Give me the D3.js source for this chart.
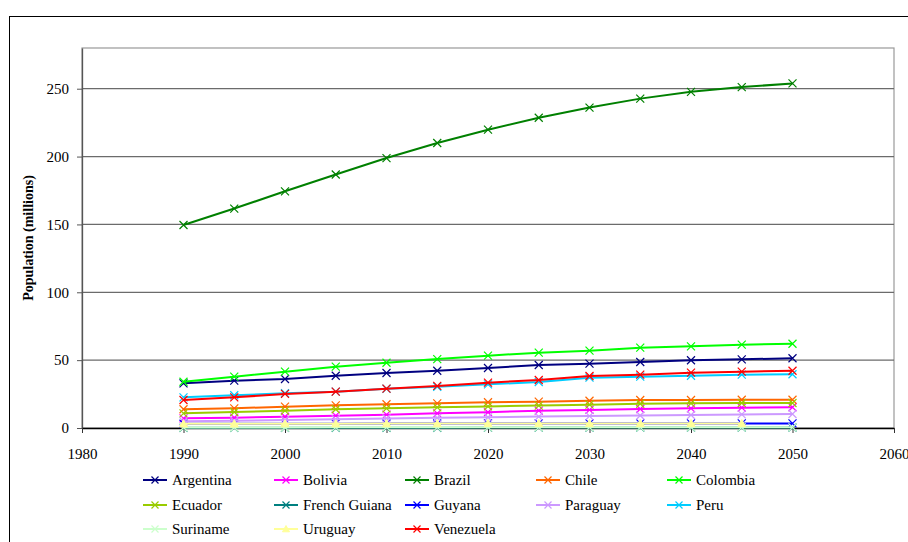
<!DOCTYPE html>
<html><head><meta charset="utf-8">
<script src="https://cdn.jsdelivr.net/npm/d3@7"></script>
<style>body{margin:0;background:#fff}svg{display:block}svg text{font-family:"Liberation Serif","Times New Roman","DejaVu Serif",serif}</style>
</head><body>
<svg id="chart" width="908" height="542"></svg>
<script>
const years = [1990,1995,2000,2005,2010,2015,2020,2025,2030,2035,2040,2045,2050];
const xTicks = [1980,1990,2000,2010,2020,2030,2040,2050,2060];
const yTicks = [0,50,100,150,200,250];
const argentina = [32.9,34.9,36.1,38.5,40.5,42.2,44.2,46.4,47.4,48.6,49.9,50.6,51.4];
const bolivia = [7.1,7.6,8.3,9.1,9.8,10.8,11.6,12.8,13.3,14.0,14.5,15.0,15.3];
const brazil = [149.6,161.7,174.4,186.8,198.9,210.0,219.8,228.6,236.1,242.7,247.7,251.2,253.9];
const chile = [13.8,14.5,15.7,16.7,17.5,18.2,19.0,19.4,20.1,20.6,20.6,20.8,20.8];
const colombia = [34.1,37.8,41.5,45.2,48.1,50.8,53.3,55.5,57.0,59.2,60.2,61.4,62.1];
const ecuador = [10.8,11.8,12.8,13.8,14.5,15.2,15.9,16.5,17.2,17.9,18.2,18.4,18.4];
const frenchGuiana = [0.1,0.1,0.2,0.2,0.2,0.2,0.3,0.3,0.3,0.4,0.4,0.4,0.4];
const guyana = [3.1,3.1,3.2,3.2,3.3,3.3,3.4,3.4,3.4,3.4,3.4,3.4,3.4];
const paraguay = [4.9,5.4,5.9,6.5,7.0,7.5,7.9,8.4,8.8,9.2,9.6,10.0,10.3];
const peru = [22.6,24.1,25.6,26.8,28.9,30.4,32.2,33.9,37.1,37.8,38.5,39.3,39.6];
const suriname = [0.4,0.4,0.4,0.5,0.5,0.5,0.5,0.5,0.5,0.5,0.5,0.5,0.5];
const uruguay = [3.1,3.1,3.2,3.2,3.3,3.3,3.4,3.4,3.4,3.4,3.4,3.4,null];
const venezuela = [20.6,22.6,25.1,26.8,29.0,31.0,33.4,35.4,38.3,39.3,40.8,41.5,42.2];

const series = [
  {name:"Argentina", values:argentina, color:"#000080", marker:"x"},
  {name:"Bolivia", values:bolivia, color:"#ff00ff", marker:"x"},
  {name:"Brazil", values:brazil, color:"#008000", marker:"x"},
  {name:"Chile", values:chile, color:"#ff6600", marker:"x"},
  {name:"Colombia", values:colombia, color:"#00ff00", marker:"x"},
  {name:"Ecuador", values:ecuador, color:"#99cc00", marker:"x"},
  {name:"French Guiana", values:frenchGuiana, color:"#008080", marker:"x"},
  {name:"Guyana", values:guyana, color:"#0000ff", marker:"x"},
  {name:"Paraguay", values:paraguay, color:"#cc99ff", marker:"x"},
  {name:"Peru", values:peru, color:"#00ccff", marker:"x"},
  {name:"Suriname", values:suriname, color:"#ccffcc", marker:"x"},
  {name:"Uruguay", values:uruguay, color:"#ffff99", marker:"tri"},
  {name:"Venezuela", values:venezuela, color:"#ff0000", marker:"x"}
];

const svg = d3.select("#chart");
const font = '"Liberation Serif","Times New Roman","DejaVu Serif",serif';
const L = 82, R = 894, T = 48, B = 428;
const x = d3.scaleLinear().domain([1980,2060]).range([L,R]);
const y = d3.scaleLinear().domain([0,280]).range([B,T]);

// outer frame
svg.append("rect").attr("x",9.5).attr("y",16.5).attr("width",1000).attr("height",1000)
  .attr("fill","none").attr("stroke","#000").attr("stroke-width",1);

// plot border
svg.append("rect").attr("x",L).attr("y",T).attr("width",R-L).attr("height",B-T)
  .attr("fill","none").attr("stroke","#999").attr("stroke-width",1.2);

// gridlines
svg.append("g").selectAll("line").data(yTicks.filter(d=>d>0)).join("line")
  .attr("x1",L).attr("x2",R).attr("y1",d=>y(d)).attr("y2",d=>y(d))
  .attr("stroke","#6b6b6b").attr("stroke-width",1.3);

// y axis
const yAxis = svg.append("g").attr("transform",`translate(${L},0)`)
  .call(d3.axisLeft(y).tickValues(yTicks).tickSizeInner(5).tickSizeOuter(0).tickPadding(8));
yAxis.attr("font-family",null);
yAxis.select(".domain").attr("stroke","#555").attr("stroke-width",1.3);
yAxis.selectAll(".tick line").attr("stroke","#555");
yAxis.selectAll("text").style("font-family",font).attr("font-size",15).attr("fill","#000");

// x axis
const xAxis = svg.append("g").attr("transform",`translate(0,${B})`)
  .call(d3.axisBottom(x).tickValues(xTicks).tickFormat(d3.format("d")).tickSizeInner(5).tickSizeOuter(0).tickPadding(15));
xAxis.attr("font-family",null);
xAxis.select(".domain").attr("stroke","#000").attr("stroke-width",1.3);
xAxis.selectAll(".tick line").attr("stroke","#333");
xAxis.selectAll("text").style("font-family",font).attr("font-size",15).attr("fill","#000");

// y title
svg.append("text").attr("transform",`translate(33,${(T+B)/2}) rotate(-90)`)
  .attr("text-anchor","middle").style("font-family",font).attr("font-weight","bold")
  .attr("font-size",14).text("Population (millions)");

const line = d3.line().defined(d=>d.v!=null).x(d=>x(d.yr)).y(d=>y(d.v));

function drawMarker(g, cx, cy, s, size) {
  if (s.marker === "tri") {
    g.append("path").attr("d",`M${cx},${cy-size}L${cx+size},${cy+size*0.8}L${cx-size},${cy+size*0.8}Z`)
      .attr("fill",s.color).attr("stroke",s.color).attr("stroke-width",1);
  } else {
    g.append("path").attr("d",`M${cx-size},${cy-size}L${cx+size},${cy+size}M${cx-size},${cy+size}L${cx+size},${cy-size}`)
      .attr("stroke",s.color).attr("stroke-width",1.2).attr("fill","none");
  }
}

const plot = svg.append("g");
series.forEach(s => {
  const pts = years.map((yr,i)=>({yr, v:s.values[i]}));
  const g = plot.append("g");
  g.append("path").datum(pts).attr("d",line).attr("fill","none")
    .attr("stroke",s.color).attr("stroke-width",2);
  pts.filter(p=>p.v!=null).forEach(p => drawMarker(g, x(p.yr), y(p.v), s, 4));
});

// legend
const colX = [143,274,405,536,667];
const rowY = [480,505,529];
series.forEach((s,i) => {
  const cx = colX[i%5], cy = rowY[Math.floor(i/5)];
  const g = svg.append("g");
  g.append("line").attr("x1",cx).attr("x2",cx+24).attr("y1",cy).attr("y2",cy)
    .attr("stroke",s.color).attr("stroke-width",2);
  drawMarker(g, cx+12, cy, s, 3.5);
  g.append("text").attr("x",cx+29).attr("y",cy+5).style("font-family",font)
    .attr("font-size",15).attr("fill","#000").text(s.name);
});
</script>
</body></html>
